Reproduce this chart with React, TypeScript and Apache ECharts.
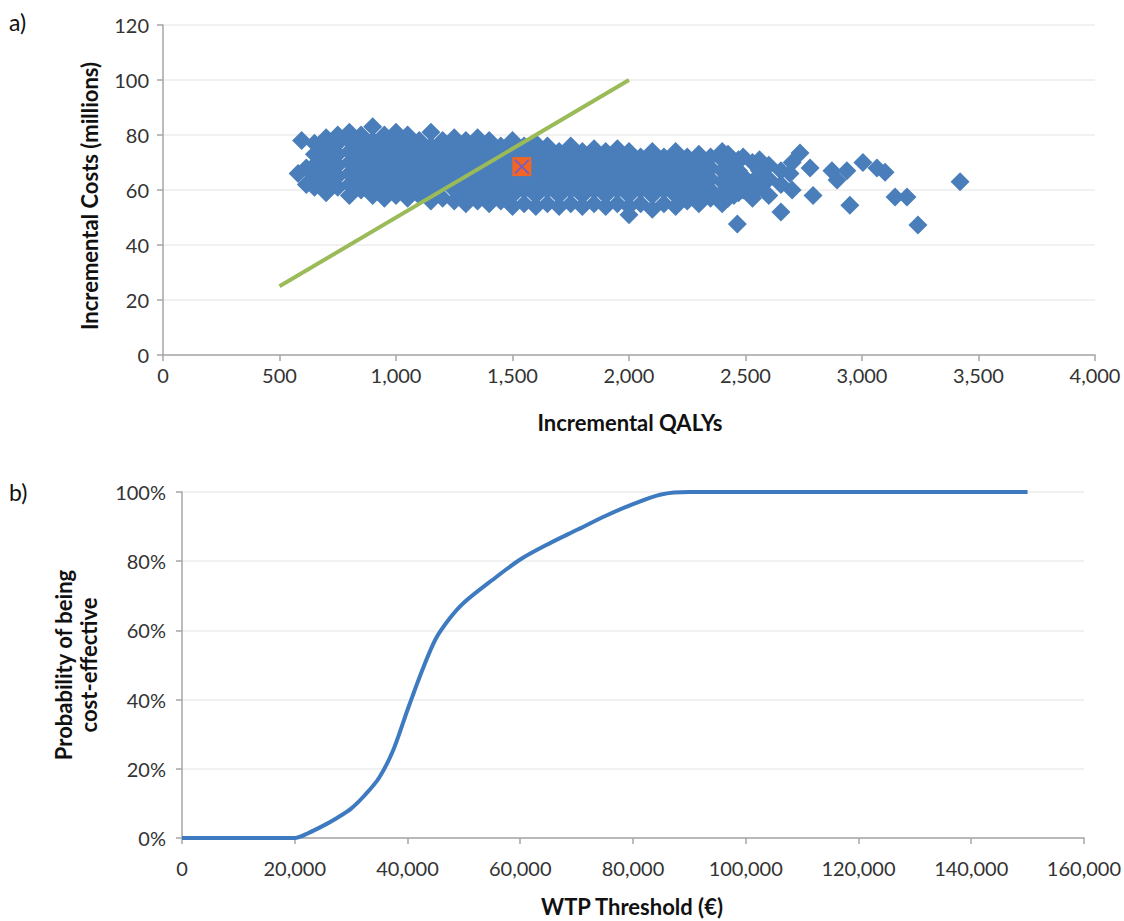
import React, { useEffect, useRef } from "react";
import * as echarts from "echarts";

// ---- Panel a) cost-effectiveness plane ----
// Columns of simulated points: [incremental QALYs, ...incremental costs (millions)]
const cloudColumns: [number, number[]][] = [
  [580, [66]],
  [595, [78]],
  [615, [62, 68]],
  [650, [61, 65, 69, 73, 77]],
  [700, [59, 63, 67, 71, 75, 79]],
  [750, [61, 65, 69, 73, 77, 80]],
  [800, [58, 62, 66, 70, 74, 78, 81]],
  [850, [60, 64, 68, 72, 76, 80]],
  [900, [58, 62, 66, 70, 74, 78, 83]],
  [950, [57, 60, 64, 68, 72, 76, 80]],
  [1000, [58, 62, 66, 70, 74, 78, 81]],
  [1050, [57, 60, 64, 68, 72, 76, 80]],
  [1100, [58, 62, 66, 70, 74, 78]],
  [1150, [56, 60, 64, 68, 72, 76, 81]],
  [1200, [57, 62, 66, 70, 74, 78]],
  [1250, [56, 60, 64, 68, 72, 76, 79]],
  [1300, [55, 58, 62, 66, 70, 74, 78]],
  [1350, [56, 60, 64, 68, 72, 76, 79]],
  [1400, [55, 58, 62, 66, 70, 74, 78]],
  [1450, [56, 60, 64, 68, 72, 76]],
  [1500, [54, 58, 62, 66, 70, 74, 78]],
  [1550, [55, 60, 64, 68, 72, 76]],
  [1600, [54, 58, 62, 66, 70, 74, 77]],
  [1650, [55, 60, 64, 68, 72, 76]],
  [1700, [54, 58, 62, 66, 70, 74]],
  [1750, [55, 60, 64, 68, 72, 76]],
  [1800, [54, 58, 62, 66, 70, 74]],
  [1850, [55, 60, 64, 68, 72, 75]],
  [1900, [54, 58, 62, 66, 70, 74]],
  [1950, [55, 60, 64, 68, 72, 75]],
  [2000, [51, 54, 58, 62, 66, 70, 74]],
  [2050, [55, 60, 64, 68, 72]],
  [2100, [53, 58, 62, 66, 70, 74]],
  [2150, [55, 60, 64, 68, 72]],
  [2200, [54, 58, 62, 66, 70, 74]],
  [2250, [56, 60, 64, 68, 72]],
  [2300, [55, 58, 62, 66, 70, 73]],
  [2350, [57, 60, 64, 68, 72]],
  [2400, [55, 59, 63, 67, 71, 74]],
  [2425, [57, 61, 65, 69, 73]],
  [2450, [58, 62, 66, 70]],
  [2465, [47.6]],
  [2470, [59, 63, 67, 71]],
  [2490, [60, 65, 72]],
  [2530, [57, 63, 70]],
  [2560, [61, 67, 71]],
  [2600, [58, 64, 69]],
  [2652, [52, 62, 67]],
  [2691, [66]],
  [2700, [60, 70]],
  [2734, [73.5]],
  [2777, [68]],
  [2790, [58]],
  [2871, [67]],
  [2893, [63.6]],
  [2935, [67]],
  [2948, [54.5]],
  [3004, [70]],
  [3064, [68]],
  [3099, [66.5]],
  [3142, [57.5]],
  [3193, [57.5]],
  [3240, [47.3]],
  [3421, [63]],
];
const meanPoint = [1540, 68.5];
const thresholdLineX = [500, 2000];
const thresholdLineY = [25, 100];

// ---- Panel b) acceptability curve ----
const wtpValues = [0, 10000, 20000, 22500, 25000, 27500, 30000, 32500, 35000, 37500, 40000, 42500, 45000, 47500, 50000, 55000, 60000, 65000, 70000, 75000, 80000, 85000, 90000, 100000, 120000, 150000];
const probValues = [0, 0, 0, 0.015, 0.035, 0.058, 0.085, 0.125, 0.175, 0.255, 0.37, 0.48, 0.575, 0.635, 0.68, 0.745, 0.805, 0.85, 0.89, 0.93, 0.965, 0.993, 1.0, 1.0, 1.0, 1.0];

const FONT = "Lato, 'Open Sans', sans-serif";
const fmt = (v: number) => v.toLocaleString("en-US");

export default function App() {
  const ref = useRef<HTMLDivElement>(null);
  useEffect(() => {
    if (!ref.current) return;
    const chart = echarts.init(ref.current, null, { renderer: "svg" });
    const cloud: number[][] = [];
    cloudColumns.forEach(([x, ys]) => ys.forEach((y) => cloud.push([x, y])));
    const axisLine = { show: true, lineStyle: { color: "#a6a6a6", width: 1.5 } };
    const axisTick = { show: true, inside: false, length: 6, lineStyle: { color: "#a6a6a6", width: 1.5 } };
    const splitLine = { show: true, lineStyle: { color: "#ececec", width: 1.5 } };
    const labelStyle = { color: "#333", fontFamily: FONT, fontSize: 20 };
    const nameStyle = { fill: "#111", fontFamily: FONT, fontSize: 22, fontWeight: "bold" as const };

    chart.setOption({
      animation: false,
      backgroundColor: "#fff",
      grid: [
        { left: 163, right: 29, top: 25, height: 330 },
        { left: 182, right: 39, top: 492, height: 346 },
      ],
      xAxis: [
        {
          gridIndex: 0, type: "value", min: 0, max: 4000, interval: 500,
          axisLine, axisTick, splitLine: { show: false },
          axisLabel: { ...labelStyle, margin: 10, formatter: (v: number) => fmt(v) },
        },
        {
          gridIndex: 1, type: "value", min: 0, max: 160000, interval: 20000,
          axisLine, axisTick, splitLine: { show: false },
          axisLabel: { ...labelStyle, margin: 20, formatter: (v: number) => fmt(v) },
        },
      ],
      yAxis: [
        {
          gridIndex: 0, type: "value", min: 0, max: 120, interval: 20,
          axisLine, axisTick, splitLine,
          axisLabel: { ...labelStyle, margin: 14 },
        },
        {
          gridIndex: 1, type: "value", min: 0, max: 1, interval: 0.2,
          axisLine, axisTick, splitLine,
          axisLabel: { ...labelStyle, margin: 16, formatter: (v: number) => Math.round(v * 100) + "%" },
        },
      ],
      series: [
        {
          type: "scatter", xAxisIndex: 0, yAxisIndex: 0, data: cloud,
          symbol: "diamond", symbolSize: 19,
          itemStyle: { color: "#4a7ebb", opacity: 1 }, silent: true,
        },
        {
          type: "line", xAxisIndex: 0, yAxisIndex: 0,
          data: thresholdLineX.map((x, i) => [x, thresholdLineY[i]]),
          symbol: "none", lineStyle: { color: "#9bbb59", width: 4 }, z: 3,
        },
        {
          type: "scatter", xAxisIndex: 0, yAxisIndex: 0, data: [meanPoint],
          symbol: "rect", symbolSize: 19,
          itemStyle: { color: "#f26522", opacity: 1 }, z: 4,
        },
        {
          type: "scatter", xAxisIndex: 0, yAxisIndex: 0, data: [meanPoint],
          symbol: "path://M0,0L10,10M10,0L0,10", symbolSize: 14,
          itemStyle: { color: "none", borderColor: "#7a5fc0", borderWidth: 2, opacity: 1 }, z: 5,
        },
        {
          type: "line", xAxisIndex: 1, yAxisIndex: 1,
          data: wtpValues.map((x, i) => [x, probValues[i]]),
          symbol: "none", smooth: 0.3,
          lineStyle: { color: "#3e7ac0", width: 4 },
        },
      ],
      graphic: [
        { type: "text", left: 9, top: 10, style: { text: "a)", fill: "#111", fontFamily: FONT, fontSize: 23 } },
        { type: "text", left: 9, top: 480, style: { text: "b)", fill: "#111", fontFamily: FONT, fontSize: 23 } },
        { type: "text", x: 630, y: 422, style: { ...nameStyle, text: "Incremental QALYs", align: "center", verticalAlign: "middle" } },
        { type: "text", x: 632, y: 906, style: { ...nameStyle, text: "WTP Threshold (€)", align: "center", verticalAlign: "middle" } },
        { type: "text", x: 89, y: 196, rotation: Math.PI / 2, style: { ...nameStyle, text: "Incremental Costs (millions)", align: "center", verticalAlign: "middle" } },
        { type: "text", x: 76, y: 665, rotation: Math.PI / 2, style: { ...nameStyle, text: "Probability of being\ncost-effective", align: "center", verticalAlign: "middle", lineHeight: 25 } },
      ],
    });
    return () => chart.dispose();
  }, []);
  return <div ref={ref} style={{ position: "fixed", left: 0, top: 0, width: 1124, height: 921 }} />;
}
